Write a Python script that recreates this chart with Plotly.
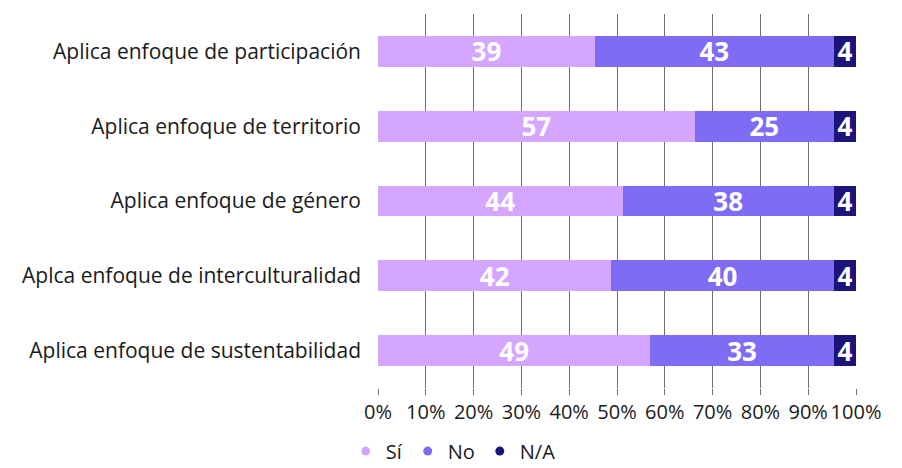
import plotly.graph_objects as go

categories = [
    "Aplica enfoque de participación",
    "Aplica enfoque de territorio",
    "Aplica enfoque de género",
    "Aplca enfoque de interculturalidad",
    "Aplica enfoque de sustentabilidad",
]
si = [39, 57, 44, 42, 49]
no = [43, 25, 38, 40, 33]
na = [4, 4, 4, 4, 4]
series_names = ["Sí", "No", "N/A"]
colors = ["#d5a6ff", "#7f6cf4", "#1c147a"]
tick_vals = [0, 10, 20, 30, 40, 50, 60, 70, 80, 90, 100]
tick_text = [f"{v}%" for v in tick_vals]

FONT = "Open Sans"

fig = go.Figure()
for name, vals, col in zip(series_names, [si, no, na], colors):
    fig.add_trace(go.Bar(
        y=categories, x=vals, name=name, orientation="h",
        marker=dict(color=col, line=dict(width=0)),
        text=[str(v) for v in vals], textposition="inside", textangle=0,
        insidetextanchor="middle", constraintext="none",
        textfont=dict(family=FONT, size=26, color="white", weight="bold"),
        showlegend=False, cliponaxis=False,
    ))
for name, col in zip(series_names, colors):
    fig.add_trace(go.Scatter(
        x=[None], y=[None], mode="markers", name=name,
        marker=dict(color=col, size=9, symbol="circle"),
        showlegend=True,
    ))

fig.update_layout(
    barmode="stack", barnorm="percent", bargap=0.59,
    width=894, height=460,
    margin=dict(l=370, r=46, t=6, b=80, autoexpand=False),
    paper_bgcolor="white", plot_bgcolor="white",
    font=dict(family=FONT, size=20, color="#1a1a1a"),
    xaxis=dict(range=[0, 100], tickvals=tick_vals, ticktext=tick_text,
               showgrid=True, gridcolor="#6e6e6e", gridwidth=1,
               ticks="outside", ticklen=6, tickcolor="#6e6e6e",
               zeroline=False, showline=False, fixedrange=True,
               automargin=False, tickfont=dict(size=20)),
    yaxis=dict(autorange="reversed", showgrid=False, ticks="", ticklen=0,
               ticklabelstandoff=16, automargin=False,
               tickfont=dict(size=21)),
    legend=dict(orientation="h", x=-0.0675, xanchor="left", y=-0.1166, yanchor="top",
                traceorder="normal", font=dict(size=20), itemwidth=30,
                tracegroupgap=0),
)

fig.write_html("out.html")
